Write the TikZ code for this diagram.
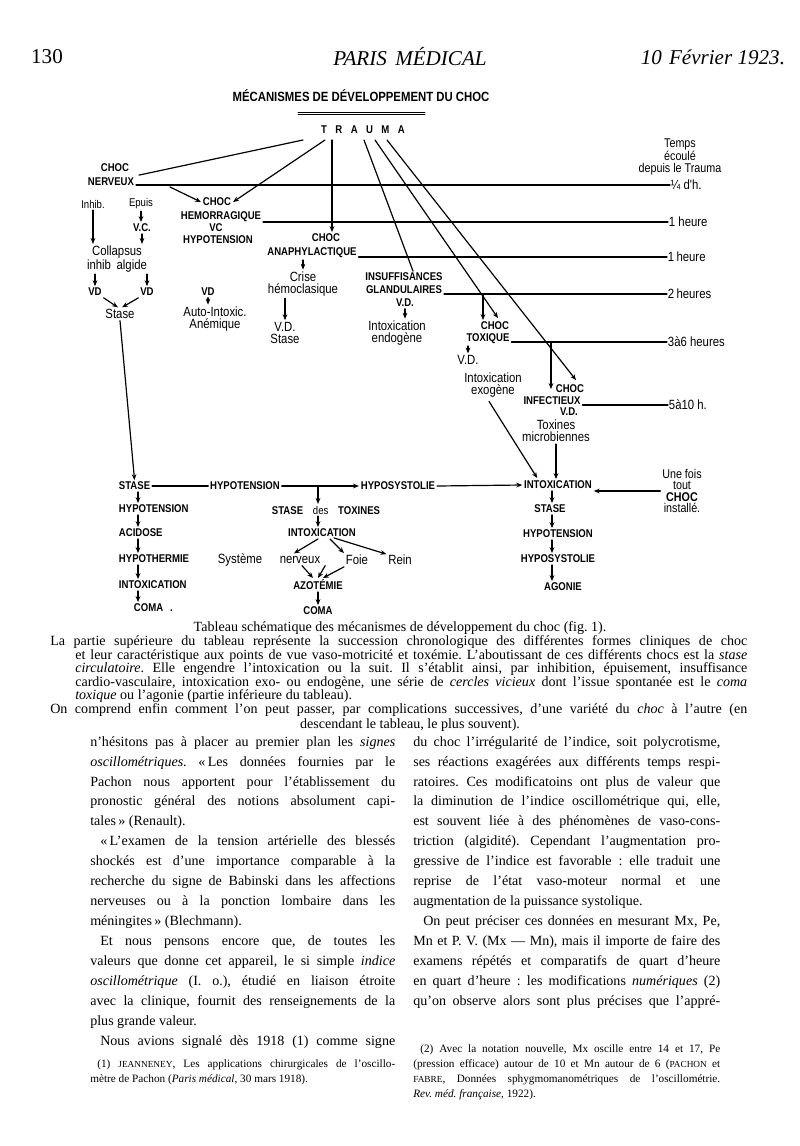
\documentclass[tikz,border=0pt]{standalone}
\usepackage{fontspec}
\setmainfont{Liberation Serif}
\newfontfamily\schema[FakeStretch=0.85]{Liberation Sans}
\usetikzlibrary{arrows.meta,calc}
\frenchspacing

\newlength\pxu
\setlength\pxu{0.025cm}
\newcommand\lj[2]{\makebox[#1\pxu][s]{#2}}
\newcommand\capit[1]{{\fontsize{6.6}{8}\selectfont #1}}

\tikzstyle{trait}=[black, line width=0.85pt, line join=round, line cap=round]
\tikzstyle{fleche}=[trait, -{Stealth[length=4.2pt, width=3.4pt]}]
\tikzstyle{maj}=[font=\schema\bfseries\fontsize{8}{9.5}\selectfont, inner sep=1.2pt]
\tikzstyle{minu}=[font=\schema\fontsize{9.5}{8.8}\selectfont, inner sep=1.2pt, align=center]
\tikzstyle{petit}=[font=\schema\fontsize{8}{9}\selectfont, inner sep=1.2pt]
\tikzstyle{heure}=[minu, anchor=west, inner sep=0.5pt]
\tikzstyle{texte}=[font=\fontsize{10}{14.2}\selectfont, inner sep=0pt, align=left, anchor=north west]
\tikzstyle{legende}=[font=\fontsize{10}{9.65}\selectfont, inner sep=0pt, align=left]
\tikzstyle{note}=[font=\fontsize{8}{10.7}\selectfont, inner sep=0pt, align=left, anchor=north west]

\begin{document}
\begin{tikzpicture}[x=0.025cm, y=-0.025cm]
	\useasboundingbox (0,0) rectangle (800,1146);
	\def\esp{\hspace{6pt}}
	
	% en-tete de la page
	\node[font=\fontsize{15}{18}\selectfont] (page) at (47,57) {130};
	\node[font=\itshape\fontsize{15}{18}\selectfont] (journal) at (410,57) {PARIS\hspace{6pt}MÉDICAL};
	\node[font=\itshape\fontsize{15}{18}\selectfont, anchor=east] (date) at (790,57) {10\hspace{5pt}Février 1923.};
	
	% titre du tableau
	\node[maj, font=\schema\bfseries\fontsize{9.5}{11}\selectfont] (titre) at (361,96) {MÉCANISMES DE DÉVELOPPEMENT DU CHOC};
	\draw[trait, line width=0.6pt] (298,112) -- (425,112);
	\draw[trait, line width=0.6pt] (298,114.5) -- (425,114.5);
	\node[maj] (trauma) at (363,130) {T\esp R\esp A\esp U\esp M\esp A};
	
	% temps ecoule depuis le trauma
	\node[minu, font=\schema\fontsize{9}{8.2}\selectfont] (temps) at (680,157) {Temps\\écoulé\\depuis le Trauma};
	\node[heure] (h1) at (670,185) {¼ d'h.};
	\node[heure] (h2) at (668,222) {1 heure};
	\node[heure] (h3) at (667,257) {1\,heure};
	\node[heure] (h4) at (667,294) {2\,heures};
	\node[heure] (h5) at (667,342) {3à6 heures};
	\node[heure] (h6) at (668,405) {5à10 h.};
	
	% choc nerveux
	\node[maj] (chocnerv) at (115,168) {CHOC};
	\node[maj] (nerveux) at (111,182) {NERVEUX};
	\node[petit] (inhib) at (93,204) {Inhib.};
	\node[petit] (epuis) at (141,204) {Epuis};
	\node[maj] (vc) at (142,228) {V.C.};
	\node[minu] (collapsus) at (117,259) {Collapsus\\inhib\hspace{4pt}algide};
	\node[maj] (vda) at (95,292) {VD};
	\node[maj] (vdb) at (147,292) {VD};
	\node[minu] (stase) at (120,314) {Stase};
	
	% choc hemorragique
	\node[maj] (chochemo) at (217,202) {CHOC};
	\node[maj] (hemorr) at (221,217) {HEMORRAGIQUE};
	\node[maj] (vchemo) at (216,228) {VC};
	\node[maj] (hypohemo) at (218,240) {HYPOTENSION};
	\node[maj] (vdhemo) at (208,292) {VD};
	\node[minu] (auto) at (215,319) {Auto-Intoxic.\\Anémique};
	
	% choc anaphylactique
	\node[maj] (chocana) at (326,238) {CHOC};
	\node[maj] (anaph) at (312,253) {ANAPHYLACTIQUE};
	\node[minu] (crise) at (303,284) {Crise\\hémoclasique};
	\node[minu] (vdstase) at (285,333) {V.D.\\Stase};
	
	% insuffisances glandulaires
	\node[maj] (insuf) at (404,277) {INSUFFISANCES};
	\node[maj] (glandu) at (404,290) {GLANDULAIRES};
	\node[maj] (vdinsuf) at (405,303) {V.D.};
	\node[minu] (endo) at (397,333) {Intoxication\\endogène};
	
	% choc toxique
	\node[maj] (choctox) at (495,326) {CHOC};
	\node[maj] (toxique) at (488,339) {TOXIQUE};
	\node[minu] (vdexo) at (468,360) {V.D.};
	\node[minu] (exo) at (493,385) {Intoxication\\exogène};
	
	% choc infectieux
	\node[maj] (chocinf) at (570,389) {CHOC};
	\node[maj] (infect) at (552,401) {INFECTIEUX};
	\node[maj] (vdinf) at (569,412) {V.D.};
	\node[minu] (toxines) at (556,431) {Toxines\\microbiennes};
	
	% partie inferieure : cercles vicieux
	\node[maj, anchor=west] (stase3) at (117,486) {STASE};
	\node[maj, anchor=west] (hypo3) at (117,509) {HYPOTENSION};
	\node[maj, anchor=west] (acid) at (117,533) {ACIDOSE};
	\node[maj, anchor=west] (hypoth) at (117,559) {HYPOTHERMIE};
	\node[maj, anchor=west] (intox3) at (117,585) {INTOXICATION};
	\node[maj, anchor=west] (coma3) at (132,608) {COMA\hspace{5pt}.};
	
	\node[maj] (hypo4) at (245,486) {HYPOTENSION};
	\node[maj] (hyposys4) at (398,486) {HYPOSYSTOLIE};
	\node[maj] (stasetox) at (326,510) {STASE\hspace{7pt}{\mdseries des}\hspace{7pt}TOXINES};
	\node[maj] (intox4) at (322,533) {INTOXICATION};
	\node[minu] (systeme) at (240,560) {Système};
	\node[minu] (nerveux2) at (300,560) {nerveux};
	\node[minu] (foie) at (357,560) {Foie};
	\node[minu] (rein) at (400,560) {Rein};
	\node[maj] (azot) at (318,585) {AZOTÉMIE};
	\node[maj] (coma4) at (318,611) {COMA};
	
	\node[maj] (intox) at (558,485) {INTOXICATION};
	\node[maj] (stase2) at (550,509) {STASE};
	\node[maj] (hypo2) at (558,534) {HYPOTENSION};
	\node[maj] (hyposys2) at (558,559) {HYPOSYSTOLIE};
	\node[maj] (agonie) at (563,587) {AGONIE};
	\node[minu, font=\schema\fontsize{9}{8}\selectfont] (fois) at (682,491) {Une fois\\tout\\\textbf{CHOC}\\installé.};
	
	% depart des traits sous TRAUMA
	\coordinate (ta) at (303,140);
	\coordinate (tb) at (325,140);
	\coordinate (tc) at (332,140);
	\coordinate (td) at (364,140);
	\coordinate (te) at (375,140);
	\coordinate (tf) at (387,140);
	\coordinate (dnerv) at (170,187);
	\coordinate (k2) at (483,294);
	\coordinate (k3) at (551,342);
	\coordinate (k4) at (318,0);
	\coordinate (axeg) at (138,0);
	\coordinate (axed) at (552,0);
	
	\draw[trait] (ta) -- ($(nerveux.north east)+(3,-1)$);
	\draw[fleche] (tb) -- (chochemo.east);
	\draw[fleche] (tc) -- (tc |- chocana.north);
	\draw[trait] (td) -- ($(insuf.north)+(9,0)$);
	\draw[fleche] (te) -- ($(choctox.north)+(3,-2)$);
	\draw[fleche] (tf) -- ($(chocinf.north)+(6,-3)$);
	\draw[fleche] (dnerv) -- (chochemo.west);
	
	% lignes du temps
	\draw[trait] (nerveux.east |- h1.west) -- (h1.west);
	\draw[trait] (hemorr.east |- h2.west) -- (h2.west);
	\draw[trait] (anaph.east |- h3.west) -- (h3.west);
	\draw[trait] (glandu.east |- h4.west) -- (h4.west);
	\draw[trait] (toxique.east |- h5.west) -- (h5.west);
	\draw[trait] (infect.east |- h6.west) -- (h6.west);
	
	% partie superieure
	\draw[fleche] (inhib.south) -- (inhib.south |- collapsus.north);
	\draw[fleche] (epuis.south) -- (epuis.south |- vc.north);
	\draw[fleche] (vc.south) -- (vc.south |- collapsus.north);
	\draw[fleche] (collapsus.south -| vda.north) -- (vda.north);
	\draw[fleche] (collapsus.south -| vdb.north) -- (vdb.north);
	\draw[fleche] (vda.south east) -- ([xshift=-1.5pt]stase.north);
	\draw[fleche] (vdb.south west) -- ([xshift=1.5pt]stase.north);
	\draw[fleche] (stase.south) -- (stase3.north);
	\draw[fleche] (vdhemo.south) -- (vdhemo.south |- auto.north);
	\draw[fleche] (anaph.south -| crise.north) -- (crise.north);
	\draw[fleche] (crise.south -| vdstase.north) -- (vdstase.north);
	\draw[fleche] (vdinsuf.south) -- (vdinsuf.south |- endo.north);
	\draw[fleche] (k2) -- (k2 |- choctox.north);
	\draw[fleche] (toxique.south -| vdexo.north) -- (vdexo.north);
	\draw[fleche] ($(exo.south)+(-4,2)$) -- ($(intox.north west)+(15,-1)$);
	\draw[fleche] (k3) -- (k3 |- chocinf.west);
	\draw[fleche] (toxines.south) -- (toxines.south |- intox.north);
	
	% partie inferieure
	\draw[trait] (stase3.east) -- (hypo4.west);
	\draw[fleche] (hypo4.east) -- (hyposys4.west);
	\draw[fleche] (hyposys4.east) -- (intox.west);
	\draw[fleche] (fois.west) -- (fois.west -| intox.east);
	\foreach \a/\b in {stase3/hypo3, hypo3/acid, acid/hypoth, hypoth/intox3, intox3/coma3} {
		\draw[fleche] (\a.south -| axeg) -- (\b.north -| axeg);
	}
	\foreach \a/\b in {intox/stase2, stase2/hypo2, hypo2/hyposys2, hyposys2/agonie} {
		\draw[fleche] (\a.south -| axed) -- (\b.north -| axed);
	}
	\draw[fleche] (k4 |- hypo4.east) -- (k4 |- stasetox.north);
	\draw[fleche] (k4 |- stasetox.south) -- (k4 |- intox4.north);
	\draw[fleche] ($(intox4.south)+(-4,0)$) -- ($(nerveux2.north)+(-6,-1)$);
	\draw[fleche] ($(intox4.south)+(8,0)$) -- (foie.north west);
	\draw[fleche] ($(intox4.south)+(12,-1)$) -- ($(rein.north west)+(0,1)$);
	\draw[fleche] ($(nerveux2.south)+(2,0)$) -- ($(azot.north)+(-5,0)$);
	\draw[fleche] ($(nerveux2.south east)+(3,0)$) -- (azot.north);
	\draw[fleche] (foie.south west) -- ($(azot.north)+(5,0)$);
	\draw[fleche] (azot.south -| coma4.north) -- (coma4.north);
	
	% legende
	\node[legende, anchor=base] (leg1) at (400,631) {Tableau schématique des mécanismes de développement du choc (fig. 1).};
	\node[legende, anchor=north west] (leg2) at (50,635.5) {%
		\lj{697}{La partie supérieure du tableau représente la succession chronologique des différentes formes cliniques de choc}\\
		\hspace*{25\pxu}\lj{672}{et leur caractéristique aux points de vue vaso-motricité et toxémie. L'aboutissant de ces différents chocs est la \textit{stase}}\\
		\hspace*{25\pxu}\lj{672}{\textit{circulatoire}. Elle engendre l'intoxication ou la suit. Il s'établit ainsi, par inhibition, épuisement, insuffisance}\\
		\hspace*{25\pxu}\lj{672}{cardio-vasculaire, intoxication exo- ou endogène, une série de \textit{cercles vicieux} dont l'issue spontanée est le \textit{coma}}\\
		\hspace*{25\pxu}\textit{toxique} ou l'agonie (partie inférieure du tableau).\\
		\lj{697}{On comprend enfin comment l'on peut passer, par complications successives, d'une variété du \textit{choc} à l'autre (en}};
	\node[legende, anchor=base] (leg3) at (410,728) {descendant le tableau, le plus souvent).};
	
	% texte en deux colonnes
	\node[texte] (colg) at (90,736) {%
		\lj{305}{n'hésitons pas à placer au premier plan les \textit{signes}}\\
		\lj{305}{\textit{oscillométriques}. «\,Les données fournies par le}\\
		\lj{305}{Pachon nous apportent pour l'établissement du}\\
		\lj{305}{pronostic général des notions absolument capi-}\\
		tales\,» (Renault).\\
		\lj{305}{\hspace*{10\pxu}«\,L'examen de la tension artérielle des blessés}\\
		\lj{305}{shockés est d'une importance comparable à la}\\
		\lj{305}{recherche du signe de Babinski dans les affections}\\
		\lj{305}{nerveuses ou à la ponction lombaire dans les}\\
		méningites\,» (Blechmann).\\
		\lj{305}{\hspace*{10\pxu}Et nous pensons encore que, de toutes les}\\
		\lj{305}{valeurs que donne cet appareil, le si simple \textit{indice}}\\
		\lj{305}{\textit{oscillométrique} (I. o.), étudié en liaison étroite}\\
		\lj{305}{avec la clinique, fournit des renseignements de la}\\
		plus grande valeur.\\
		\lj{305}{\hspace*{10\pxu}Nous avions signalé dès 1918 (1) comme signe}};
	\node[texte] (cold) at (413,736) {%
		\lj{307}{du choc l'irrégularité de l'indice, soit polycrotisme,}\\
		\lj{307}{ses réactions exagérées aux différents temps respi-}\\
		\lj{307}{ratoires. Ces modificatoins ont plus de valeur que}\\
		\lj{307}{la diminution de l'indice oscillométrique qui, elle,}\\
		\lj{307}{est souvent liée à des phénomènes de vaso-cons-}\\
		\lj{307}{triction (algidité). Cependant l'augmentation pro-}\\
		\lj{307}{gressive de l'indice est favorable : elle traduit une}\\
		\lj{307}{reprise de l'état vaso-moteur normal et une}\\
		augmentation de la puissance systolique.\\
		\lj{307}{\hspace*{10\pxu}On peut préciser ces données en mesurant Mx, Pe,}\\
		\lj{307}{Mn et P. V. (Mx — Mn), mais il importe de faire des}\\
		\lj{307}{examens répétés et comparatifs de quart d'heure}\\
		\lj{307}{en quart d'heure : les modifications \textit{numériques} (2)}\\
		\lj{307}{qu'on observe alors sont plus précises que l'appré-}};
	
	% notes
	\node[note] (note1) at (90,1059) {%
		\lj{305}{\hspace*{7\pxu}(1) \capit{JEANNENEY}, Les applications chirurgicales de l'oscillo-}\\
		mètre de Pachon (\textit{Paris médical}, 30 mars 1918).};
	\node[note] (note2) at (413,1044) {%
		\lj{307}{\hspace*{7\pxu}(2) Avec la notation nouvelle, Mx oscille entre 14 et 17, Pe}\\
		\lj{307}{(pression efficace) autour de 10 et Mn autour de 6 (\capit{PACHON} et}\\
		\lj{307}{\capit{FABRE}, Données sphygmomanométriques de l'oscillométrie.}\\
		\textit{Rev. méd. française}, 1922).};
	
\end{tikzpicture}
\end{document}
